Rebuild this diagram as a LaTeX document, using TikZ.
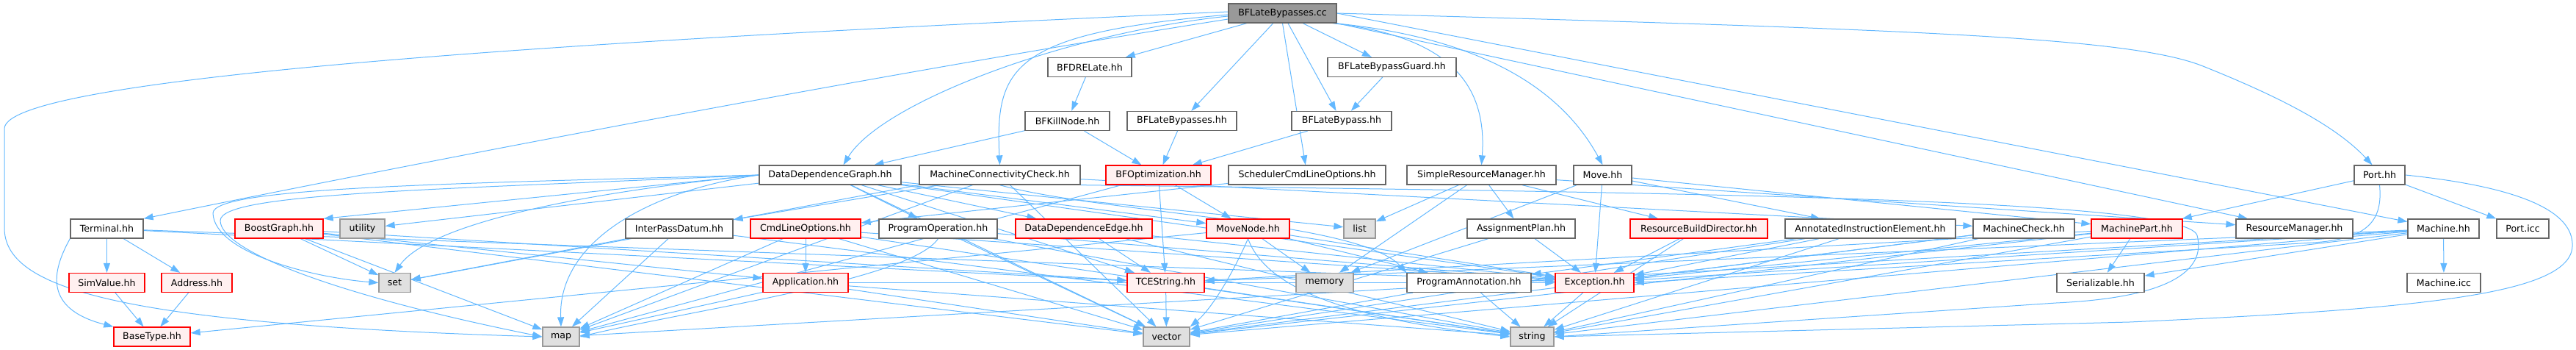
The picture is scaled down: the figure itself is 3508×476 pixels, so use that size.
\documentclass[tikz,border=0pt]{standalone}
\usepackage{fontspec}
\setmainfont{DejaVu Sans}
\usetikzlibrary{arrows.meta}
\definecolor{edgec}{HTML}{63B8FF}
\definecolor{gfortyc}{HTML}{666666}
\definecolor{gsixtyc}{HTML}{999999}
\definecolor{redfill}{HTML}{FFF0F0}
\definecolor{extfill}{HTML}{E0E0E0}
\pgfdeclarelayer{bg}
\pgfsetlayers{bg,main}
\newcommand\nodefont{\fontsize{12.6}{15}\selectfont}
\newcommand\ed[2]{\draw[edg] (#1) -- (#2);}
\begin{document}
\begin{tikzpicture}[x=1pt,y=-1pt,
  box/.style={draw=gfortyc, fill=white, line width=1.3pt, minimum height=26pt, inner sep=0pt, font=\nodefont},
  redbox/.style={box, draw=red},
  redbox/.append style={fill=redfill},
  extbox/.style={box, draw=gsixtyc, fill=extfill},
  rootbox/.style={box, draw=gfortyc, fill=gsixtyc},
  edg/.style={draw=edgec, line width=1pt, -{Triangle[length=13pt,width=9pt,fill=edgec]}}]
\useasboundingbox (0,0) rectangle (3508,476);
% row 0
\node[rootbox, minimum width=147pt] (root) at (1746.5,18) {BFLateBypasses.cc};
% row 1
\node[box, minimum width=114pt] (bfdre) at (1484,91.5) {BFDRELate.hh};
\node[box, minimum width=175pt] (guard) at (1895.5,91.5) {BFLateBypassGuard.hh};
% row 2
\node[box, minimum width=115pt] (kill) at (1453.5,164.5) {BFKillNode.hh};
\node[box, minimum width=149pt] (bfhh) at (1609.5,164.5) {BFLateBypasses.hh};
\node[box, minimum width=136pt] (bfb) at (1827,164.5) {BFLateBypass.hh};
% row 3
\node[box, minimum width=193pt] (ddg) at (1130.5,238) {DataDependenceGraph.hh};
\node[box, minimum width=219pt] (mcc) at (1361.5,238) {MachineConnectivityCheck.hh};
\node[redbox, minimum width=143pt] (bfopt) at (1577.5,238) {BFOptimization.hh};
\node[box, minimum width=214pt] (sclo) at (1780,238) {SchedulerCmdLineOptions.hh};
\node[box, minimum width=203pt] (srm) at (2017.5,238) {SimpleResourceManager.hh};
\node[box, minimum width=79pt] (move) at (2182.5,238) {Move.hh};
\node[box, minimum width=69pt] (port) at (3240.5,238) {Port.hh};
% row 4
\node[box, minimum width=99pt] (term) at (145.5,311) {Terminal.hh};
\node[redbox, minimum width=120pt] (boost) at (380,311) {BoostGraph.hh};
\node[extbox, minimum width=61pt] (util) at (493.5,311) {utility};
\node[box, minimum width=146pt] (ipd) at (925,311) {InterPassDatum.hh};
\node[redbox, minimum width=150pt] (clo) at (1097,311) {CmdLineOptions.hh};
\node[box, minimum width=161pt] (po) at (1277.5,311) {ProgramOperation.hh};
\node[redbox, minimum width=186pt] (dde) at (1476,311) {DataDependenceEdge.hh};
\node[redbox, minimum width=113pt] (mn) at (1699.5,311) {MoveNode.hh};
\node[extbox, minimum width=43pt] (lst) at (1851.5,311) {list};
\node[box, minimum width=147pt] (ap) at (2071.5,311) {AssignmentPlan.hh};
\node[redbox, minimum width=187pt] (rbd) at (2313.5,311) {ResourceBuildDirector.hh};
\node[box, minimum width=232pt] (aie) at (2547,311) {AnnotatedInstructionElement.hh};
\node[box, minimum width=138pt] (mchk) at (2756,311) {MachineCheck.hh};
\node[redbox, minimum width=124pt] (mpart) at (2910,311) {MachinePart.hh};
\node[box, minimum width=159pt] (rm) at (3124.5,311) {ResourceManager.hh};
\node[box, minimum width=97pt] (mach) at (3327.5,311) {Machine.hh};
\node[box, minimum width=71pt] (picc) at (3435.5,311) {Port.icc};
% row 5
\node[redbox, minimum width=103pt] (simv) at (145.5,384.5) {SimValue.hh};
\node[redbox, minimum width=96pt] (addr) at (268,384.5) {Address.hh};
\node[extbox, minimum width=43pt] (sett) at (537.5,384.5) {set};
\node[redbox, minimum width=116pt] (app) at (1097,384.5) {Application.hh};
\node[redbox, minimum width=105pt] (tces) at (1587.5,384.5) {TCEString.hh};
\node[extbox, minimum width=78pt] (mem) at (1804,384.5) {memory};
\node[box, minimum width=169pt] (pann) at (2000.5,384.5) {ProgramAnnotation.hh};
\node[redbox, minimum width=107pt] (exc) at (2171.5,384.5) {Exception.hh};
\node[box, minimum width=119pt] (ser) at (2860.5,384.5) {Serializable.hh};
\node[box, minimum width=100pt] (micc) at (3328,384.5) {Machine.icc};
% row 6
\node[redbox, minimum width=104pt] (btype) at (207,458) {BaseType.hh};
\node[extbox, minimum width=50pt] (mapp) at (764,458) {map};
\node[extbox, minimum width=63pt] (vec) at (1588.5,458) {vector};
\node[extbox, minimum width=59pt] (str) at (2086.5,458) {string};

\begin{pgfonlayer}{bg}
% root
\ed{root}{bfdre}
\ed{root}{guard}
\ed{root}{bfhh}
\ed{root}{bfb}
\ed{root.south}{sclo}
\draw[edg] ([yshift=-4pt]root.west) .. controls (1450,45) and (1200,140) .. ([xshift=18pt]ddg.north);
\draw[edg] ([yshift=-2pt]root.west) .. controls (1380,45) and (1355,90) .. (mcc.north);
\draw[edg] ([xshift=-6pt]root.south east) .. controls (1980,50) and (2025,120) .. (srm.north);
\draw[edg] ([xshift=-3pt]root.south east) .. controls (2000,50) and (2120,110) .. (move.north);
\ed{root.south east}{rm}
\ed{root.east}{mach}
\draw[edg] (root.east) .. controls (2600,40) and (2900,50) .. (3000,90) .. controls (3100,130) and (3180,170) .. ([xshift=-10pt]port.north);
\draw[edg] ([yshift=-8pt]root.west) .. controls (1200,100) and (600,215) .. (term.north east);
\draw[edg] ([yshift=2pt]root.west) .. controls (900,50) and (6,100) .. (6,175) -- (6,310) .. controls (6,390) and (150,440) .. (mapp.west);
% rows 1-2
\ed{bfdre}{kill}
\ed{guard}{bfb}
\ed{kill}{ddg}
\ed{kill}{bfopt}
\ed{bfhh}{bfopt}
\ed{bfb}{bfopt}
% DDG
\ed{ddg.west}{boost.north east}
\ed{ddg}{util}
\draw[edg] (ddg.west) .. controls (760,265) and (580,310) .. (sett.north);
\draw[edg] (ddg.west) .. controls (600,250) and (290,255) .. (290,290) .. controls (292,345) and (430,378) .. (sett.west);
\draw[edg] (ddg.west) .. controls (600,258) and (300,262) .. (300,300) .. controls (300,340) and (450,400) .. (mapp.west);
\draw[edg] (ddg.west) .. controls (880,260) and (760,330) .. (mapp.north);
\ed{ddg}{po}
\ed{ddg}{dde}
\ed{ddg}{mn}
\ed{ddg}{lst}
\ed{ddg}{vec}
\ed{ddg}{tces}
\ed{ddg}{exc}
% MCC
\ed{mcc}{ipd}
\ed{mcc.south west}{sett}
\ed{mcc}{mchk}
\draw[edg] (mcc.south) .. controls (1500,290) and (1850,300) .. (pann.north west);
\ed{mcc}{vec}
\ed{mcc}{mapp}
\draw[edg] (mcc.south east) .. controls (2300,262) and (2975,270) .. (2992,320) .. controls (3005,370) and (2950,405) .. (2800,412) -- (str.east);
% BFOpt
\ed{bfopt}{mn}
\ed{bfopt}{tces}
\ed{bfopt}{mapp}
% others row 3
\ed{sclo}{clo}
\ed{srm}{lst}
\ed{srm}{mem}
\ed{srm}{ap}
\ed{srm}{rbd}
\ed{srm}{rm}
\ed{move}{exc}
\ed{move}{aie}
\ed{move}{mem}
\ed{move}{mpart}
% Port
\ed{port}{mpart}
\ed{port}{picc}
\draw[edg] (port.east) .. controls (3440,255) and (3505,290) .. (3503,335) .. controls (3500,400) and (3300,420) .. (2900,438) -- (str.east);
\draw[edg] (port.south) .. controls (3245,300) and (3225,325) .. (3150,330) -- (exc.east);
% row 4
\ed{term}{simv}
\ed{term}{addr}
\draw[edg] (term.south west) .. controls (70,370) and (60,420) .. (btype.north west);
\ed{term}{exc}
\ed{term}{tces}
\ed{boost}{sett}
\ed{boost}{mapp}
\ed{boost}{app}
\ed{boost}{tces}
\ed{boost}{vec}
\ed{ipd}{sett}
\ed{ipd}{mapp}
\ed{ipd}{str}
\ed{clo}{app}
\ed{clo}{mapp}
\ed{clo}{vec}
\ed{clo}{str}
\ed{clo}{exc}
\draw[edg] (po.south) .. controls (1240,380) and (950,420) .. (mapp.east);
\ed{po}{vec}
\ed{po}{str}
\ed{po}{exc}
\ed{dde}{tces}
\ed{dde}{str}
\ed{dde}{exc}
\draw[edg] (mn.south) .. controls (1680,370) and (1650,420) .. (vec.north east);
\ed{mn}{mem}
\draw[edg] (mn.south) .. controls (1720,380) and (1800,430) .. (str.west);
\ed{mn}{exc}
\ed{mn}{pann}
\ed{mn}{btype}
\ed{ap}{exc}
\ed{ap}{vec}
\ed{rbd}{exc}
\ed{rbd}{str}
\ed{aie}{exc}
\ed{aie}{pann}
\ed{aie}{vec}
\ed{aie}{str}
\ed{mchk}{exc}
\ed{mchk}{str}
\ed{mchk}{vec}
\ed{mpart}{ser}
\ed{mpart}{exc}
\ed{mpart}{str}
\ed{mpart}{vec}
\ed{mpart}{tces}
\ed{mach}{micc}
\ed{mach}{ser}
\ed{mach}{exc}
\ed{mach}{str}
\ed{mach}{vec}
\ed{mach}{mapp}
\ed{mach}{tces}
% row 5
\ed{simv}{btype}
\ed{addr}{btype}
\ed{app}{mapp}
\ed{app}{vec}
\ed{app}{str}
\ed{app}{exc}
\ed{tces}{vec}
\ed{tces}{str}
\ed{pann}{str}
\ed{pann}{vec}
\ed{exc}{str}
\end{pgfonlayer}
\end{tikzpicture}
\end{document}
